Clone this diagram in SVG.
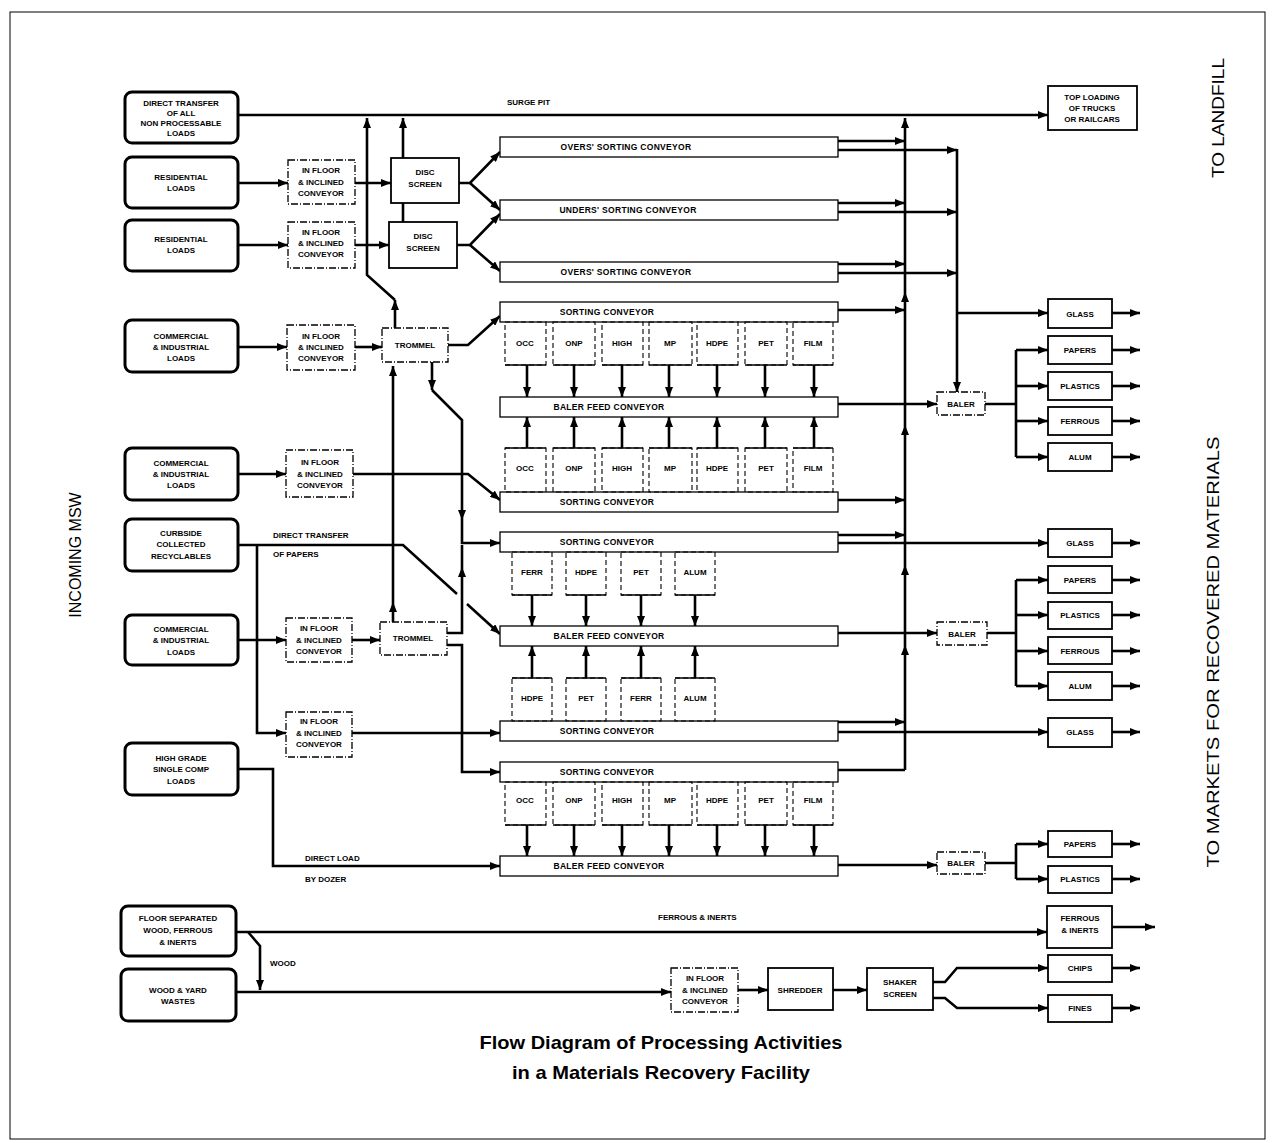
<svg xmlns="http://www.w3.org/2000/svg" width="1276" height="1143" viewBox="0 0 1276 1143">
<defs>
<marker id="a" markerUnits="userSpaceOnUse" markerWidth="10" markerHeight="8" refX="10" refY="4" orient="auto"><path d="M0,0 L10,4 L0,8 z" fill="#000"/></marker>
<style>
.src{fill:#fff;stroke:#000;stroke-width:3}
.box{fill:#fff;stroke:#000;stroke-width:1.8}
.dsh{fill:#fff;stroke:#000;stroke-width:1.3;stroke-dasharray:7 2 1 2}
.bar{fill:#fff;stroke:#000;stroke-width:1.3}
.pk{fill:none;stroke:#000;stroke-width:1.1;stroke-dasharray:5 3}
.c{fill:none;stroke:#000;stroke-width:2.6}
.m{marker-end:url(#a)}
text{font-family:"Liberation Sans",Arial,sans-serif}
.t{font-size:8px;font-weight:bold;text-anchor:middle}
.l{font-size:8px;font-weight:bold}
.bt{font-size:8.5px;font-weight:bold;text-anchor:middle;letter-spacing:0.3px}
.side{font-size:16px;text-anchor:middle}
.title{font-size:19px;font-weight:bold;text-anchor:middle}
</style>
</defs>
<rect x="10" y="12" width="1255" height="1127" fill="#fff" stroke="#000" stroke-width="1"/>

<g id="connectors">
<!-- surge -->
<path class="c m" d="M238,115 H1048"/>
<path class="c m" d="M395,328 V300"/>
<path class="c m" d="M395,300 L367,275 V118"/>
<path class="c m" d="M403,158 V118"/>
<path class="c" d="M403,203 V222"/>
<path class="c m" d="M238,183 H288"/>
<path class="c m" d="M355,183 H391"/>
<path class="c m" d="M238,245 H288"/>
<path class="c m" d="M355,245 H389"/>
<path class="c m" d="M459,183 H470 L500,152"/>
<path class="c m" d="M470,183 L500,210"/>
<path class="c m" d="M457,245 H470 L500,214"/>
<path class="c m" d="M470,245 L500,271"/>
<!-- commercial 1 -->
<path class="c m" d="M238,347 H287"/>
<path class="c m" d="M355,347 H382"/>
<path class="c m" d="M448,345 H468 L500,316"/>
<path class="c m" d="M432,362 V390"/>
<path class="c m" d="M432,390 L462,420 V520"/>
<path class="c m" d="M462,520 V543 H500"/>
<path class="c m" d="M393,622 V602"/>
<path class="c m" d="M393,602 V366"/>
<!-- commercial 2 -->
<path class="c m" d="M238,474 H286"/>
<path class="c m" d="M353,474 H468 L500,500"/>
<!-- curbside -->
<path class="c" d="M238,545 H403 L457,594"/>
<path class="c m" d="M467,604 L500,634"/>
<path class="c m" d="M257,545 V733 H286"/>
<!-- commercial 3 -->
<path class="c m" d="M238,640 H286"/>
<path class="c m" d="M352,640 H380"/>
<path class="c m" d="M447,633 H462 V567"/>
<path class="c" d="M462,567 V545"/>
<path class="c m" d="M447,645 H462 V772 H500"/>
<path class="c m" d="M352,733 H500"/>
<!-- high grade -->
<path class="c m" d="M238,769 H273 V866 H500"/>
<!-- pickers row A down -->
<path class="c m" d="M527,365 V397"/><path class="c m" d="M574,365 V397"/><path class="c m" d="M622,365 V397"/><path class="c m" d="M669,365 V397"/><path class="c m" d="M717,365 V397"/><path class="c m" d="M765,365 V397"/><path class="c m" d="M814,365 V397"/>
<!-- row B up -->
<path class="c m" d="M527,448 V417"/><path class="c m" d="M574,448 V417"/><path class="c m" d="M622,448 V417"/><path class="c m" d="M669,448 V417"/><path class="c m" d="M717,448 V417"/><path class="c m" d="M765,448 V417"/><path class="c m" d="M814,448 V417"/>
<!-- row C down -->
<path class="c m" d="M532,595 V626"/><path class="c m" d="M586,595 V626"/><path class="c m" d="M641,595 V626"/><path class="c m" d="M695,595 V626"/>
<!-- row D up -->
<path class="c m" d="M532,678 V646"/><path class="c m" d="M586,678 V646"/><path class="c m" d="M641,678 V646"/><path class="c m" d="M695,678 V646"/>
<!-- row E down -->
<path class="c m" d="M527,825 V856"/><path class="c m" d="M574,825 V856"/><path class="c m" d="M622,825 V856"/><path class="c m" d="M669,825 V856"/><path class="c m" d="M717,825 V856"/><path class="c m" d="M765,825 V856"/><path class="c m" d="M814,825 V856"/>
<!-- right side collectors -->
<path class="c m" d="M838,141 H905"/>
<path class="c m" d="M838,150 H957"/>
<path class="c m" d="M838,203 H905"/>
<path class="c m" d="M838,212 H957"/>
<path class="c m" d="M838,264 H905"/>
<path class="c m" d="M838,273 H957"/>
<path class="c m" d="M957,149 V392"/>
<path class="c m" d="M957,313 H1048"/>
<path class="c m" d="M838,310 H905"/>
<path class="c m" d="M838,404 H937"/>
<path class="c" d="M985,404 H1016 M1016,350 V457"/>
<path class="c m" d="M1016,350 H1048"/><path class="c m" d="M1016,386 H1048"/><path class="c m" d="M1016,421 H1048"/><path class="c m" d="M1016,457 H1048"/>
<path class="c m" d="M838,500 H905"/>
<path class="c m" d="M838,535 H905"/>
<path class="c m" d="M838,543 H1048"/>
<path class="c m" d="M838,633 H937"/>
<path class="c" d="M987,633 H1016 M1016,580 V686"/>
<path class="c m" d="M1016,580 H1048"/><path class="c m" d="M1016,615 H1048"/><path class="c m" d="M1016,651 H1048"/><path class="c m" d="M1016,686 H1048"/>
<path class="c m" d="M838,722 H905"/>
<path class="c m" d="M838,732 H1048"/>
<path class="c" d="M838,770 H905"/>
<path class="c m" d="M905,770 V645"/>
<path class="c m" d="M905,645 V565"/>
<path class="c m" d="M905,565 V425"/>
<path class="c m" d="M905,425 V292"/>
<path class="c m" d="M905,292 V118"/>
<path class="c m" d="M838,865 H937"/>
<path class="c" d="M985,863 H1016 M1016,844 V879"/>
<path class="c m" d="M1016,844 H1048"/><path class="c m" d="M1016,879 H1048"/>
<!-- outputs -->
<path class="c m" d="M1112,313 H1140"/><path class="c m" d="M1112,350 H1140"/><path class="c m" d="M1112,386 H1140"/><path class="c m" d="M1112,421 H1140"/><path class="c m" d="M1112,457 H1140"/>
<path class="c m" d="M1112,543 H1140"/><path class="c m" d="M1112,580 H1140"/><path class="c m" d="M1112,615 H1140"/><path class="c m" d="M1112,651 H1140"/><path class="c m" d="M1112,686 H1140"/>
<path class="c m" d="M1112,732 H1140"/><path class="c m" d="M1112,844 H1140"/><path class="c m" d="M1112,879 H1140"/>
<!-- bottom -->
<path class="c m" d="M236,932 H1047"/>
<path class="c m" d="M1112,927 H1155"/>
<path class="c m" d="M248,932 L260,946 V990"/>
<path class="c m" d="M236,992 H671"/>
<path class="c m" d="M738,990 H768"/>
<path class="c m" d="M833,990 H867"/>
<path class="c m" d="M933,982 H945 L957,968 H1048"/>
<path class="c m" d="M933,998 H945 L957,1008 H1048"/>
<path class="c m" d="M1112,968 H1140"/>
<path class="c m" d="M1112,1008 H1140"/>
</g>

<g id="labels">
<text class="l" x="507" y="105">SURGE PIT</text>
<text class="l" x="273" y="538">DIRECT TRANSFER</text>
<text class="l" x="273" y="557">OF PAPERS</text>
<text class="l" x="305" y="861">DIRECT LOAD</text>
<text class="l" x="305" y="882">BY DOZER</text>
<text class="l" x="658" y="920">FERROUS &amp; INERTS</text>
<text class="l" x="270" y="966">WOOD</text>
</g>

<g id="src-direct"><rect class="src" x="125" y="92" width="113" height="51" rx="7"/><text class="t" x="181" y="106">DIRECT TRANSFER</text><text class="t" x="181" y="116">OF ALL</text><text class="t" x="181" y="126">NON PROCESSABLE</text><text class="t" x="181" y="136">LOADS</text></g>
<g id="src-res1"><rect class="src" x="125" y="157" width="113" height="51" rx="7"/><text class="t" x="181" y="180">RESIDENTIAL</text><text class="t" x="181" y="191">LOADS</text></g>
<g id="src-res2"><rect class="src" x="125" y="220" width="113" height="51" rx="7"/><text class="t" x="181" y="242">RESIDENTIAL</text><text class="t" x="181" y="253">LOADS</text></g>
<g id="src-com1"><rect class="src" x="125" y="320" width="113" height="52" rx="7"/><text class="t" x="181" y="339">COMMERCIAL</text><text class="t" x="181" y="350">&amp; INDUSTRIAL</text><text class="t" x="181" y="361">LOADS</text></g>
<g id="src-com2"><rect class="src" x="125" y="448" width="113" height="52" rx="7"/><text class="t" x="181" y="466">COMMERCIAL</text><text class="t" x="181" y="477">&amp; INDUSTRIAL</text><text class="t" x="181" y="488">LOADS</text></g>
<g id="src-curb"><rect class="src" x="125" y="519" width="113" height="52" rx="7"/><text class="t" x="181" y="536">CURBSIDE</text><text class="t" x="181" y="547">COLLECTED</text><text class="t" x="181" y="559">RECYCLABLES</text></g>
<g id="src-com3"><rect class="src" x="125" y="615" width="113" height="50" rx="7"/><text class="t" x="181" y="632">COMMERCIAL</text><text class="t" x="181" y="643">&amp; INDUSTRIAL</text><text class="t" x="181" y="655">LOADS</text></g>
<g id="src-high"><rect class="src" x="125" y="743" width="113" height="52" rx="7"/><text class="t" x="181" y="761">HIGH GRADE</text><text class="t" x="181" y="772">SINGLE COMP</text><text class="t" x="181" y="784">LOADS</text></g>
<g id="src-floor"><rect class="src" x="121" y="906" width="115" height="50" rx="7"/><text class="t" x="178" y="921">FLOOR SEPARATED</text><text class="t" x="178" y="933">WOOD, FERROUS</text><text class="t" x="178" y="945">&amp; INERTS</text></g>
<g id="src-wood"><rect class="src" x="121" y="969" width="115" height="52" rx="7"/><text class="t" x="178" y="993">WOOD &amp; YARD</text><text class="t" x="178" y="1004">WASTES</text></g>

<g id="conv1"><rect class="dsh" x="288" y="160" width="67" height="44"/><text class="t" x="321" y="173">IN FLOOR</text><text class="t" x="321" y="185">&amp; INCLINED</text><text class="t" x="321" y="196">CONVEYOR</text></g>
<g id="conv2"><rect class="dsh" x="288" y="222" width="67" height="46"/><text class="t" x="321" y="235">IN FLOOR</text><text class="t" x="321" y="246">&amp; INCLINED</text><text class="t" x="321" y="257">CONVEYOR</text></g>
<g id="conv3"><rect class="dsh" x="287" y="325" width="68" height="45"/><text class="t" x="321" y="339">IN FLOOR</text><text class="t" x="321" y="350">&amp; INCLINED</text><text class="t" x="321" y="361">CONVEYOR</text></g>
<g id="conv4"><rect class="dsh" x="286" y="450" width="67" height="47"/><text class="t" x="320" y="465">IN FLOOR</text><text class="t" x="320" y="477">&amp; INCLINED</text><text class="t" x="320" y="488">CONVEYOR</text></g>
<g id="conv5"><rect class="dsh" x="286" y="618" width="66" height="44"/><text class="t" x="319" y="631">IN FLOOR</text><text class="t" x="319" y="643">&amp; INCLINED</text><text class="t" x="319" y="654">CONVEYOR</text></g>
<g id="conv6"><rect class="dsh" x="286" y="712" width="66" height="45"/><text class="t" x="319" y="724">IN FLOOR</text><text class="t" x="319" y="736">&amp; INCLINED</text><text class="t" x="319" y="747">CONVEYOR</text></g>
<g id="conv7"><rect class="dsh" x="671" y="968" width="67" height="44"/><text class="t" x="705" y="981">IN FLOOR</text><text class="t" x="705" y="993">&amp; INCLINED</text><text class="t" x="705" y="1004">CONVEYOR</text></g>

<g id="disc1"><rect class="box" x="391" y="158" width="68" height="45"/><text class="t" x="425" y="175">DISC</text><text class="t" x="425" y="187">SCREEN</text></g>
<g id="disc2"><rect class="box" x="389" y="222" width="68" height="46"/><text class="t" x="423" y="239">DISC</text><text class="t" x="423" y="251">SCREEN</text></g>
<g id="trommel1"><rect class="dsh" x="382" y="328" width="66" height="34"/><text class="t" x="415" y="348">TROMMEL</text></g>
<g id="trommel2"><rect class="dsh" x="380" y="622" width="67" height="33"/><text class="t" x="413" y="641">TROMMEL</text></g>

<g id="bars">
<g id="bar1"><rect class="bar" x="500" y="137" width="338" height="20"/><text class="bt" x="626" y="150">OVERS' SORTING CONVEYOR</text></g>
<g id="bar2"><rect class="bar" x="500" y="200" width="338" height="20"/><text class="bt" x="628" y="213">UNDERS' SORTING CONVEYOR</text></g>
<g id="bar3"><rect class="bar" x="500" y="262" width="338" height="20"/><text class="bt" x="626" y="275">OVERS' SORTING CONVEYOR</text></g>
<g id="bar4"><rect class="bar" x="500" y="302" width="338" height="20"/><text class="bt" x="607" y="315">SORTING CONVEYOR</text></g>
<g id="bar5"><rect class="bar" x="500" y="397" width="338" height="20"/><text class="bt" x="609" y="410">BALER FEED CONVEYOR</text></g>
<g id="bar6"><rect class="bar" x="500" y="492" width="338" height="20"/><text class="bt" x="607" y="505">SORTING CONVEYOR</text></g>
<g id="bar7"><rect class="bar" x="500" y="532" width="338" height="20"/><text class="bt" x="607" y="545">SORTING CONVEYOR</text></g>
<g id="bar8"><rect class="bar" x="500" y="626" width="338" height="20"/><text class="bt" x="609" y="639">BALER FEED CONVEYOR</text></g>
<g id="bar9"><rect class="bar" x="500" y="721" width="338" height="20"/><text class="bt" x="607" y="734">SORTING CONVEYOR</text></g>
<g id="bar10"><rect class="bar" x="500" y="762" width="338" height="20"/><text class="bt" x="607" y="775">SORTING CONVEYOR</text></g>
<g id="bar11"><rect class="bar" x="500" y="856" width="338" height="20"/><text class="bt" x="609" y="869">BALER FEED CONVEYOR</text></g>
</g>

<g id="pickers-a">
<rect class="pk" x="505" y="322" width="41" height="43"/><text class="t" x="525" y="346">OCC</text>
<rect class="pk" x="553" y="322" width="42" height="43"/><text class="t" x="574" y="346">ONP</text>
<rect class="pk" x="602" y="322" width="41" height="43"/><text class="t" x="622" y="346">HIGH</text>
<rect class="pk" x="649" y="322" width="43" height="43"/><text class="t" x="670" y="346">MP</text>
<rect class="pk" x="697" y="322" width="41" height="43"/><text class="t" x="717" y="346">HDPE</text>
<rect class="pk" x="745" y="322" width="42" height="43"/><text class="t" x="766" y="346">PET</text>
<rect class="pk" x="793" y="322" width="40" height="43"/><text class="t" x="813" y="346">FILM</text>
<path class="c" style="stroke-width:1.5" d="M505,365 h41 M553,365 h42 M602,365 h41 M649,365 h43 M697,365 h41 M745,365 h42 M793,365 h40"/>
</g>
<g id="pickers-b">
<rect class="pk" x="505" y="448" width="41" height="44"/><text class="t" x="525" y="471">OCC</text>
<rect class="pk" x="553" y="448" width="42" height="44"/><text class="t" x="574" y="471">ONP</text>
<rect class="pk" x="602" y="448" width="41" height="44"/><text class="t" x="622" y="471">HIGH</text>
<rect class="pk" x="649" y="448" width="43" height="44"/><text class="t" x="670" y="471">MP</text>
<rect class="pk" x="697" y="448" width="41" height="44"/><text class="t" x="717" y="471">HDPE</text>
<rect class="pk" x="745" y="448" width="42" height="44"/><text class="t" x="766" y="471">PET</text>
<rect class="pk" x="793" y="448" width="40" height="44"/><text class="t" x="813" y="471">FILM</text>
<path class="c" style="stroke-width:1.5" d="M505,448 h41 M553,448 h42 M602,448 h41 M649,448 h43 M697,448 h41 M745,448 h42 M793,448 h40"/>
</g>
<g id="pickers-c">
<rect class="pk" x="512" y="552" width="40" height="43"/><text class="t" x="532" y="575">FERR</text>
<rect class="pk" x="566" y="552" width="40" height="43"/><text class="t" x="586" y="575">HDPE</text>
<rect class="pk" x="621" y="552" width="40" height="43"/><text class="t" x="641" y="575">PET</text>
<rect class="pk" x="675" y="552" width="40" height="43"/><text class="t" x="695" y="575">ALUM</text>
<path class="c" style="stroke-width:1.5" d="M512,595 h40 M566,595 h40 M621,595 h40 M675,595 h40"/>
</g>
<g id="pickers-d">
<rect class="pk" x="512" y="678" width="40" height="43"/><text class="t" x="532" y="701">HDPE</text>
<rect class="pk" x="566" y="678" width="40" height="43"/><text class="t" x="586" y="701">PET</text>
<rect class="pk" x="621" y="678" width="40" height="43"/><text class="t" x="641" y="701">FERR</text>
<rect class="pk" x="675" y="678" width="40" height="43"/><text class="t" x="695" y="701">ALUM</text>
<path class="c" style="stroke-width:1.5" d="M512,678 h40 M566,678 h40 M621,678 h40 M675,678 h40"/>
</g>
<g id="pickers-e">
<rect class="pk" x="505" y="782" width="41" height="43"/><text class="t" x="525" y="803">OCC</text>
<rect class="pk" x="553" y="782" width="42" height="43"/><text class="t" x="574" y="803">ONP</text>
<rect class="pk" x="602" y="782" width="41" height="43"/><text class="t" x="622" y="803">HIGH</text>
<rect class="pk" x="649" y="782" width="43" height="43"/><text class="t" x="670" y="803">MP</text>
<rect class="pk" x="697" y="782" width="41" height="43"/><text class="t" x="717" y="803">HDPE</text>
<rect class="pk" x="745" y="782" width="42" height="43"/><text class="t" x="766" y="803">PET</text>
<rect class="pk" x="793" y="782" width="40" height="43"/><text class="t" x="813" y="803">FILM</text>
<path class="c" style="stroke-width:1.5" d="M505,825 h41 M553,825 h42 M602,825 h41 M649,825 h43 M697,825 h41 M745,825 h42 M793,825 h40"/>
</g>

<g id="topload"><rect class="box" x="1048" y="86" width="89" height="44"/><text class="t" x="1092" y="100">TOP LOADING</text><text class="t" x="1092" y="111">OF TRUCKS</text><text class="t" x="1092" y="122">OR RAILCARS</text></g>
<g id="baler1"><rect class="dsh" x="937" y="392" width="48" height="23"/><text class="t" x="961" y="407">BALER</text></g>
<g id="baler2"><rect class="dsh" x="937" y="622" width="50" height="23"/><text class="t" x="962" y="637">BALER</text></g>
<g id="baler3"><rect class="dsh" x="937" y="852" width="48" height="22"/><text class="t" x="961" y="866">BALER</text></g>
<g id="glass1"><rect class="box" x="1048" y="299" width="64" height="29"/><text class="t" x="1080" y="317">GLASS</text></g>
<g id="papers1"><rect class="box" x="1048" y="336" width="64" height="28"/><text class="t" x="1080" y="353">PAPERS</text></g>
<g id="plastics1"><rect class="box" x="1048" y="372" width="64" height="28"/><text class="t" x="1080" y="389">PLASTICS</text></g>
<g id="ferrous1"><rect class="box" x="1048" y="407" width="64" height="28"/><text class="t" x="1080" y="424">FERROUS</text></g>
<g id="alum1"><rect class="box" x="1048" y="443" width="64" height="28"/><text class="t" x="1080" y="460">ALUM</text></g>
<g id="glass2"><rect class="box" x="1048" y="529" width="64" height="28"/><text class="t" x="1080" y="546">GLASS</text></g>
<g id="papers2"><rect class="box" x="1048" y="566" width="64" height="27"/><text class="t" x="1080" y="583">PAPERS</text></g>
<g id="plastics2"><rect class="box" x="1048" y="602" width="64" height="27"/><text class="t" x="1080" y="618">PLASTICS</text></g>
<g id="ferrous2"><rect class="box" x="1048" y="637" width="64" height="27"/><text class="t" x="1080" y="654">FERROUS</text></g>
<g id="alum2"><rect class="box" x="1048" y="672" width="64" height="28"/><text class="t" x="1080" y="689">ALUM</text></g>
<g id="glass3"><rect class="box" x="1048" y="718" width="64" height="29"/><text class="t" x="1080" y="735">GLASS</text></g>
<g id="papers3"><rect class="box" x="1048" y="831" width="64" height="26"/><text class="t" x="1080" y="847">PAPERS</text></g>
<g id="plastics3"><rect class="box" x="1048" y="866" width="64" height="27"/><text class="t" x="1080" y="882">PLASTICS</text></g>
<g id="ferrousinerts"><rect class="box" x="1047" y="906" width="65" height="42"/><text class="t" x="1080" y="921">FERROUS</text><text class="t" x="1080" y="933">&amp; INERTS</text></g>
<g id="chips"><rect class="box" x="1048" y="955" width="64" height="27"/><text class="t" x="1080" y="971">CHIPS</text></g>
<g id="fines"><rect class="box" x="1048" y="995" width="64" height="27"/><text class="t" x="1080" y="1011">FINES</text></g>
<g id="shredder"><rect class="box" x="768" y="968" width="65" height="42"/><text class="t" x="800" y="993">SHREDDER</text></g>
<g id="shaker"><rect class="box" x="867" y="968" width="66" height="42"/><text class="t" x="900" y="985">SHAKER</text><text class="t" x="900" y="997">SCREEN</text></g>

<text class="side" transform="translate(81,555) rotate(-90)">INCOMING MSW</text>
<text class="side" transform="translate(1224,118) rotate(-90)" textLength="120" lengthAdjust="spacingAndGlyphs">TO LANDFILL</text>
<text class="side" transform="translate(1219,652) rotate(-90)" textLength="431" lengthAdjust="spacingAndGlyphs">TO MARKETS FOR RECOVERED MATERIALS</text>
<text class="title" x="661" y="1049" textLength="363" lengthAdjust="spacingAndGlyphs">Flow Diagram of Processing Activities</text>
<text class="title" x="661" y="1079" textLength="298" lengthAdjust="spacingAndGlyphs">in a Materials Recovery Facility</text>
</svg>
